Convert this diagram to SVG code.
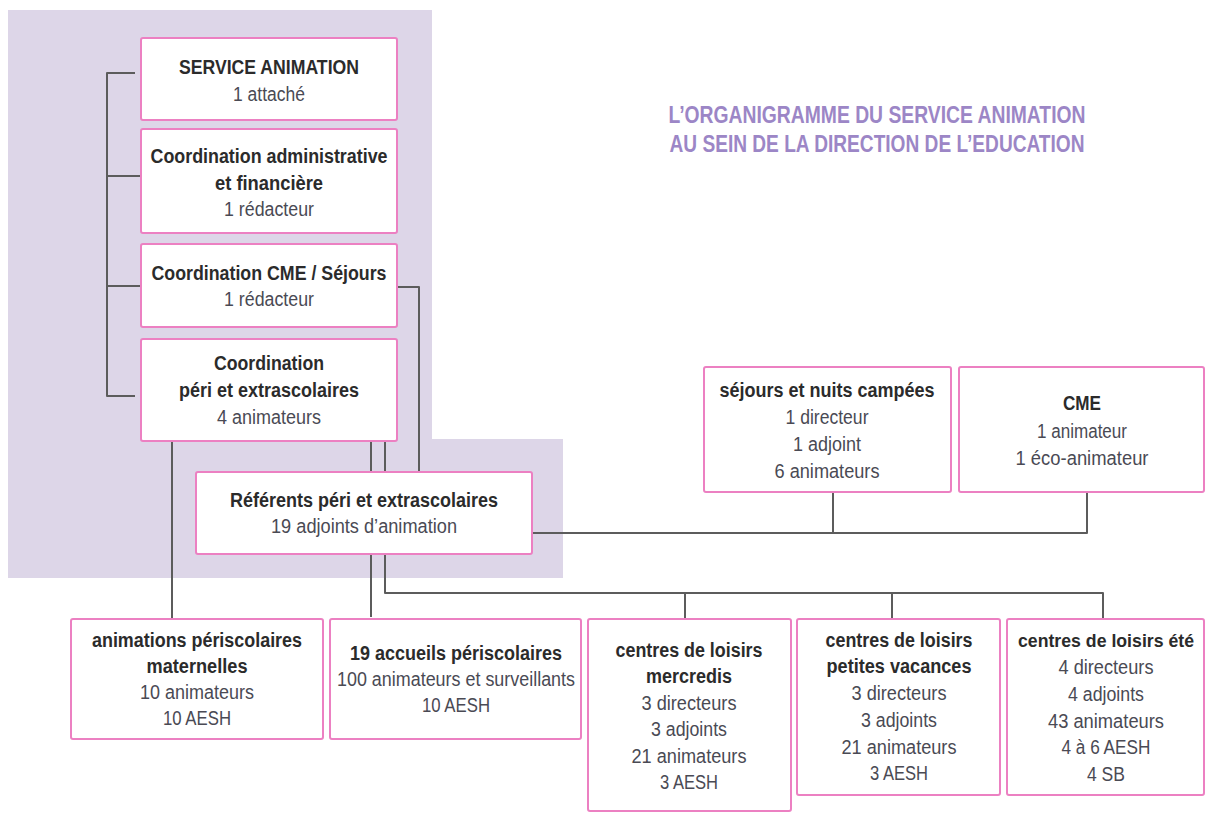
<svg xmlns="http://www.w3.org/2000/svg" width="1209" height="830" viewBox="0 0 1209 830">
<style>
.box{fill:#fff;stroke:#ec80c2;stroke-width:2}
.b{font-family:"Liberation Sans Narrow","Liberation Sans",Arial,sans-serif;font-weight:bold;font-size:20px;fill:#2b2b2b;text-anchor:middle}
.r{font-family:"Liberation Sans Narrow","Liberation Sans",Arial,sans-serif;font-size:20px;fill:#4a4a54;text-anchor:middle}
.t{font-family:"Liberation Sans Narrow","Liberation Sans",Arial,sans-serif;font-weight:bold;font-size:23px;fill:#9c86c6;text-anchor:middle}
.c{fill:none;stroke:#5c5c5c;stroke-width:2;stroke-linejoin:round}
</style>
<rect width="1209" height="830" fill="#fff"/>
<path d="M8,10 H432 V439 H563 V578 H8 Z" fill="#ddd6e8"/>
<g id="title">
<text class="t" x="877" y="123" textLength="417" lengthAdjust="spacingAndGlyphs">L’ORGANIGRAMME DU SERVICE ANIMATION</text>
<text class="t" x="877" y="152" textLength="415" lengthAdjust="spacingAndGlyphs">AU SEIN DE LA DIRECTION DE L’EDUCATION</text>
</g>
<g id="connectors">
<path class="c" d="M135,73 H107 V396 H135"/>
<path class="c" d="M107,176 H141 M107,286 H141"/>
<path class="c" d="M397,287 H419 V472"/>
<path class="c" d="M172,441 V618"/>
<path class="c" d="M371,441 V472 M385,441 V472"/>
<path class="c" d="M371,554 V617"/>
<path class="c" d="M385,554 V593 H1103 V618 M685,593 V619 M892,593 V618"/>
<path class="c" d="M532,533 H1087 V492 M833,533 V492"/>
</g>
<g id="service-animation">
<rect class="box" x="141" y="38" width="256" height="82" rx="2"/>
<text class="b" x="269" y="74" textLength="180" lengthAdjust="spacingAndGlyphs">SERVICE ANIMATION</text>
<text class="r" x="269" y="101" textLength="72" lengthAdjust="spacingAndGlyphs">1 attaché</text>
</g>
<g id="coord-admin">
<rect class="box" x="141" y="129" width="256" height="104" rx="2"/>
<text class="b" x="269" y="163" textLength="237" lengthAdjust="spacingAndGlyphs">Coordination administrative</text>
<text class="b" x="269" y="190" textLength="108" lengthAdjust="spacingAndGlyphs">et financière</text>
<text class="r" x="269" y="216" textLength="90" lengthAdjust="spacingAndGlyphs">1 rédacteur</text>
</g>
<g id="coord-cme">
<rect class="box" x="141" y="244" width="256" height="83" rx="2"/>
<text class="b" x="269" y="280" textLength="235" lengthAdjust="spacingAndGlyphs">Coordination CME / Séjours</text>
<text class="r" x="269" y="306" textLength="90" lengthAdjust="spacingAndGlyphs">1 rédacteur</text>
</g>
<g id="coord-peri">
<rect class="box" x="141" y="339" width="256" height="102" rx="2"/>
<text class="b" x="269" y="370" textLength="110" lengthAdjust="spacingAndGlyphs">Coordination</text>
<text class="b" x="269" y="397" textLength="180" lengthAdjust="spacingAndGlyphs">péri et extrascolaires</text>
<text class="r" x="269" y="424" textLength="104" lengthAdjust="spacingAndGlyphs">4 animateurs</text>
</g>
<g id="referents">
<rect class="box" x="196" y="472" width="336" height="82" rx="2"/>
<text class="b" x="364" y="507" textLength="268" lengthAdjust="spacingAndGlyphs">Référents péri et extrascolaires</text>
<text class="r" x="364" y="533" textLength="186" lengthAdjust="spacingAndGlyphs">19 adjoints d’animation</text>
</g>
<g id="sejours">
<rect class="box" x="704" y="367" width="247" height="125" rx="2"/>
<text class="b" x="827" y="397" textLength="215" lengthAdjust="spacingAndGlyphs">séjours et nuits campées</text>
<text class="r" x="827" y="424" textLength="83" lengthAdjust="spacingAndGlyphs">1 directeur</text>
<text class="r" x="827" y="451" textLength="68" lengthAdjust="spacingAndGlyphs">1 adjoint</text>
<text class="r" x="827" y="478" textLength="105" lengthAdjust="spacingAndGlyphs">6 animateurs</text>
</g>
<g id="cme">
<rect class="box" x="959" y="367" width="245" height="125" rx="2"/>
<text class="b" x="1082" y="410" textLength="38" lengthAdjust="spacingAndGlyphs">CME</text>
<text class="r" x="1082" y="438" textLength="90" lengthAdjust="spacingAndGlyphs">1 animateur</text>
<text class="r" x="1082" y="465" textLength="133" lengthAdjust="spacingAndGlyphs">1 éco-animateur</text>
</g>
<g id="animations-maternelles">
<rect class="box" x="71" y="619" width="252" height="120" rx="2"/>
<text class="b" x="197" y="647" textLength="210" lengthAdjust="spacingAndGlyphs">animations périscolaires</text>
<text class="b" x="197" y="673" textLength="101" lengthAdjust="spacingAndGlyphs">maternelles</text>
<text class="r" x="197" y="699" textLength="114" lengthAdjust="spacingAndGlyphs">10 animateurs</text>
<text class="r" x="197" y="725" textLength="68" lengthAdjust="spacingAndGlyphs">10 AESH</text>
</g>
<g id="accueils">
<rect class="box" x="330" y="619" width="251" height="120" rx="2"/>
<text class="b" x="456" y="660" textLength="212" lengthAdjust="spacingAndGlyphs">19 accueils périscolaires</text>
<text class="r" x="456" y="686" textLength="238" lengthAdjust="spacingAndGlyphs">100 animateurs et surveillants</text>
<text class="r" x="456" y="712" textLength="68" lengthAdjust="spacingAndGlyphs">10 AESH</text>
</g>
<g id="mercredis">
<rect class="box" x="588" y="619" width="203" height="192" rx="2"/>
<text class="b" x="689" y="657" textLength="147" lengthAdjust="spacingAndGlyphs">centres de loisirs</text>
<text class="b" x="689" y="683" textLength="86" lengthAdjust="spacingAndGlyphs">mercredis</text>
<text class="r" x="689" y="710" textLength="95" lengthAdjust="spacingAndGlyphs">3 directeurs</text>
<text class="r" x="689" y="736" textLength="76" lengthAdjust="spacingAndGlyphs">3 adjoints</text>
<text class="r" x="689" y="763" textLength="115" lengthAdjust="spacingAndGlyphs">21 animateurs</text>
<text class="r" x="689" y="789" textLength="58" lengthAdjust="spacingAndGlyphs">3 AESH</text>
</g>
<g id="petites-vacances">
<rect class="box" x="797" y="619" width="203" height="176" rx="2"/>
<text class="b" x="899" y="647" textLength="147" lengthAdjust="spacingAndGlyphs">centres de loisirs</text>
<text class="b" x="899" y="673" textLength="145" lengthAdjust="spacingAndGlyphs">petites vacances</text>
<text class="r" x="899" y="700" textLength="95" lengthAdjust="spacingAndGlyphs">3 directeurs</text>
<text class="r" x="899" y="727" textLength="76" lengthAdjust="spacingAndGlyphs">3 adjoints</text>
<text class="r" x="899" y="754" textLength="115" lengthAdjust="spacingAndGlyphs">21 animateurs</text>
<text class="r" x="899" y="780" textLength="58" lengthAdjust="spacingAndGlyphs">3 AESH</text>
</g>
<g id="ete">
<rect class="box" x="1007" y="619" width="197" height="176" rx="2"/>
<text class="b" x="1106" y="647" style="font-size:18px" textLength="176" lengthAdjust="spacingAndGlyphs">centres de loisirs été</text>
<text class="r" x="1106" y="674" textLength="95" lengthAdjust="spacingAndGlyphs">4 directeurs</text>
<text class="r" x="1106" y="701" textLength="76" lengthAdjust="spacingAndGlyphs">4 adjoints</text>
<text class="r" x="1106" y="728" textLength="116" lengthAdjust="spacingAndGlyphs">43 animateurs</text>
<text class="r" x="1106" y="754" textLength="89" lengthAdjust="spacingAndGlyphs">4 à 6 AESH</text>
<text class="r" x="1106" y="781" textLength="38" lengthAdjust="spacingAndGlyphs">4 SB</text>
</g>
</svg>
